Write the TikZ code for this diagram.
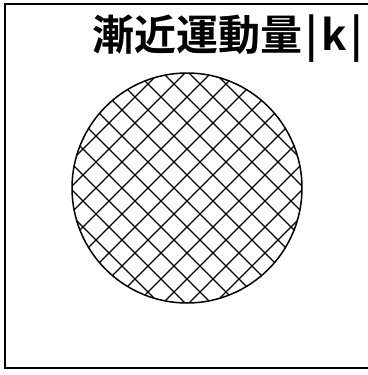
\documentclass[tikz,border=0pt]{standalone}
\usepackage{fontspec}
\newfontfamily\cjk{Noto Sans CJK JP Bold}
\tikzset{
  frame/.style={draw=black, line width=2pt},
  disc/.style={draw=black, line width=1.5pt},
  hatch/.style={draw=black, line width=1.3pt},
  title/.style={inner sep=0pt, anchor=base west, font=\cjk\fontsize{42}{44}\selectfont}
}
\begin{document}
\begin{tikzpicture}[x=1pt,y=-1pt]
\useasboundingbox (0,0) rectangle (367,375);
\draw[frame] (5,4) rectangle (372,368);
\coordinate (c) at (187,188);
\begin{scope}
  \clip (c) circle (115);
  \foreach \k in {-7,...,7} {
    \pgfmathsetmacro{\a}{-14+26*\k}
    \pgfmathsetmacro{\b}{362+26*\k}
    \draw[hatch] (\a+40,40) -- (\a+340,340);
    \draw[hatch] (\b-40,40) -- (\b-340,340);
  }
\end{scope}
\draw[disc] (c) circle (115);
\node[title] (t) at (92,50) {漸近運動量\kern3pt|\kern4pt k\kern4pt|};
\end{tikzpicture}
\end{document}
